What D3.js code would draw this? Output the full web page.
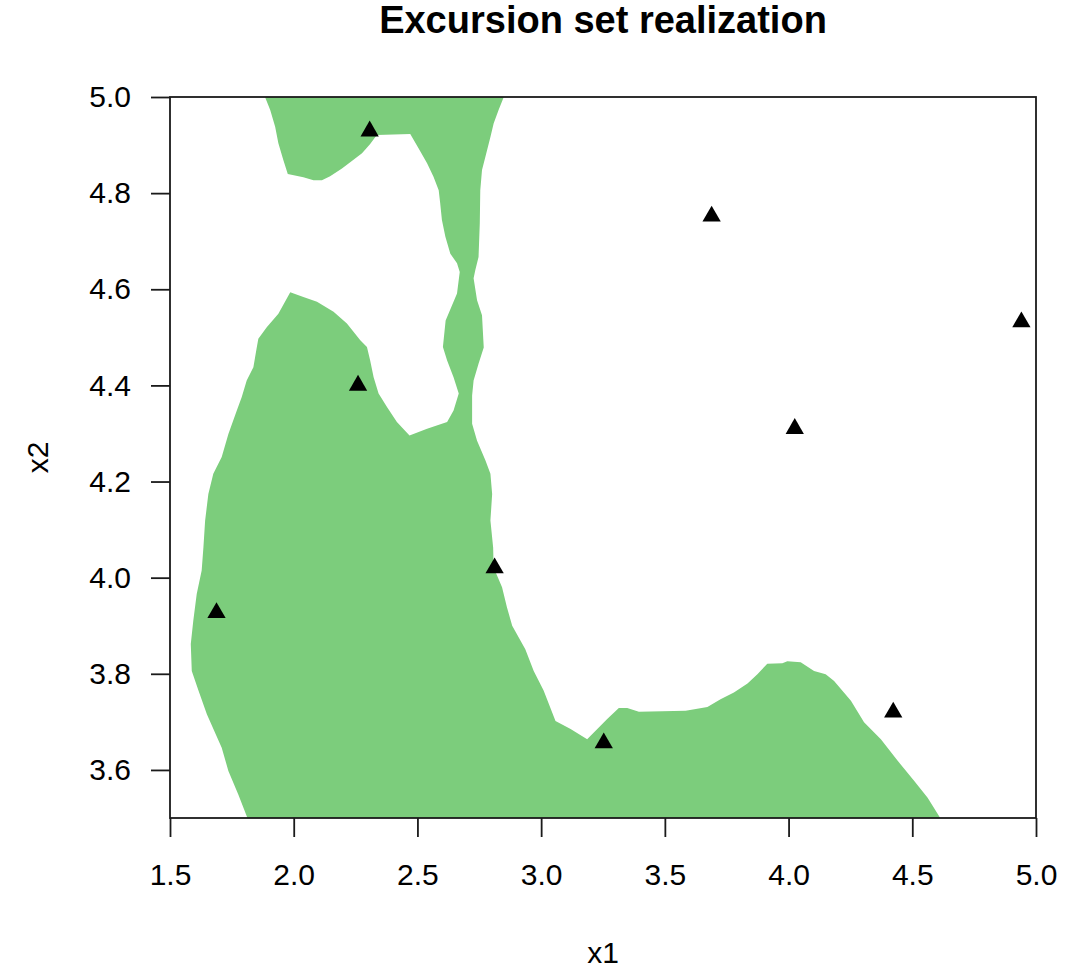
<!DOCTYPE html>
<html>
<head>
<meta charset="utf-8">
<script src="https://cdn.jsdelivr.net/npm/d3@7"></script>
<style>
  html, body { margin: 0; padding: 0; background: #ffffff; }
  svg { display: block; }
  text { font-family: "Liberation Sans", Arial, sans-serif; fill: #000; }
</style>
</head>
<body>
<svg id="chart" width="1087" height="970"></svg>
<script>
// Axis ticks
const xTicks = [1.5, 2.0, 2.5, 3.0, 3.5, 4.0, 4.5, 5.0];
const yTicks = [3.6, 3.8, 4.0, 4.2, 4.4, 4.6, 4.8, 5.0];

// Boundary of the excursion set (x1, x2), traced clockwise
const boundaryX1 = [
  1.884, 2.849, 2.828, 2.808, 2.795, 2.775, 2.761, 2.754, 2.752, 2.747,
  2.734, 2.727, 2.741, 2.761, 2.768, 2.747, 2.727, 2.721, 2.721, 2.741,
  2.775, 2.795, 2.802, 2.795, 2.806, 2.808, 2.842, 2.862, 2.883, 2.936,
  2.970, 3.010, 3.058, 3.119, 3.186, 3.267, 3.314, 3.348, 3.395, 3.584,
  3.672, 3.725, 3.779, 3.834, 3.874, 3.914, 3.975, 3.995, 4.049, 4.103,
  4.150, 4.184, 4.252, 4.305, 4.373, 4.441, 4.508, 4.562, 4.613, 1.813,
  1.776, 1.736, 1.709, 1.649, 1.615, 1.588, 1.584, 1.594, 1.608, 1.628,
  1.635, 1.642, 1.655, 1.675, 1.709, 1.736, 1.770, 1.790, 1.810, 1.837,
  1.851, 1.857, 1.891, 1.938, 1.986, 2.039, 2.094, 2.161, 2.215, 2.269,
  2.296, 2.309, 2.323, 2.343, 2.377, 2.417, 2.468, 2.539, 2.620, 2.646,
  2.667, 2.646, 2.620, 2.603, 2.614, 2.660, 2.671, 2.660, 2.633, 2.613,
  2.599, 2.592, 2.586, 2.565, 2.539, 2.505, 2.471, 2.336, 2.309, 2.276,
  2.235, 2.195, 2.147, 2.114, 2.080, 2.039, 1.976, 1.958, 1.938, 1.925,
  1.905
];
const boundaryX2 = [
  5.000, 5.000, 4.973, 4.945, 4.917, 4.876, 4.848, 4.806, 4.737, 4.667,
  4.640, 4.623, 4.577, 4.546, 4.479, 4.445, 4.410, 4.379, 4.320, 4.285,
  4.244, 4.216, 4.174, 4.119, 4.063, 4.021, 3.980, 3.938, 3.900, 3.851,
  3.806, 3.765, 3.702, 3.685, 3.664, 3.706, 3.729, 3.729, 3.721, 3.723,
  3.731, 3.747, 3.761, 3.780, 3.799, 3.821, 3.822, 3.826, 3.824, 3.806,
  3.799, 3.785, 3.744, 3.699, 3.664, 3.619, 3.577, 3.542, 3.500, 3.500,
  3.549, 3.598, 3.646, 3.716, 3.765, 3.806, 3.862, 3.910, 3.966, 4.015,
  4.063, 4.119, 4.174, 4.216, 4.251, 4.299, 4.348, 4.376, 4.410, 4.438,
  4.480, 4.497, 4.521, 4.549, 4.594, 4.584, 4.574, 4.553, 4.529, 4.494,
  4.480, 4.452, 4.417, 4.383, 4.355, 4.324, 4.296, 4.310, 4.324, 4.348,
  4.383, 4.417, 4.452, 4.480, 4.535, 4.591, 4.636, 4.654, 4.674, 4.709,
  4.744, 4.779, 4.806, 4.834, 4.862, 4.893, 4.923, 4.921, 4.902, 4.883,
  4.867, 4.851, 4.835, 4.827, 4.827, 4.833, 4.840, 4.869, 4.904, 4.938,
  4.973
];

// Design points
const pointX1 = [2.307, 3.689, 4.941, 4.025, 2.260, 2.812, 1.688, 3.253, 4.423];
const pointX2 = [4.929, 4.752, 4.532, 4.310, 4.400, 4.020, 3.927, 3.656, 3.720];

const W = 1087, H = 970;
const plot = { left: 170, right: 1036, top: 97, bottom: 818 };

const svg = d3.select("#chart");
const x = d3.scaleLinear().domain([1.5, 5.0]).range([plot.left, plot.right]);
const y = d3.scaleLinear().domain([3.5, 5.0]).range([plot.bottom, plot.top]);

svg.append("defs").append("clipPath").attr("id", "plotClip")
  .append("rect")
  .attr("x", plot.left).attr("y", plot.top)
  .attr("width", plot.right - plot.left).attr("height", plot.bottom - plot.top);

// Excursion set region
const region = boundaryX1.map((v, i) => [v, boundaryX2[i]]);
svg.append("path")
  .attr("clip-path", "url(#plotClip)")
  .attr("d", d3.line().x(d => x(d[0])).y(d => y(d[1]))(region) + "Z")
  .attr("fill", "#7CCD7C")
  .attr("stroke", "none");

// Design points as filled triangles
const tri = d3.symbol().type(d3.symbolTriangle).size(145);
svg.append("g").selectAll("path")
  .data(pointX1.map((v, i) => [v, pointX2[i]]))
  .join("path")
  .attr("d", tri)
  .attr("transform", d => `translate(${x(d[0])},${y(d[1])})`)
  .attr("fill", "#000");

// Axes
const xAxis = d3.axisBottom(x).tickValues(xTicks).tickFormat(d3.format(".1f"))
  .tickSize(19).tickPadding(27);
const yAxis = d3.axisLeft(y).tickValues(yTicks).tickFormat(d3.format(".1f"))
  .tickSize(19).tickPadding(20);

const gx = svg.append("g").attr("transform", `translate(0,${plot.bottom})`).call(xAxis);
const gy = svg.append("g").attr("transform", `translate(${plot.left},0)`).call(yAxis);
[gx, gy].forEach(g => {
  g.select(".domain").remove();
  g.selectAll(".tick line").attr("stroke", "#1a1a1a").attr("stroke-width", 1.8);
  g.selectAll(".tick text")
    .attr("fill", "#000")
    .style("font-family", '"Liberation Sans", Arial, sans-serif')
    .style("font-size", "30px");
});

// Plot box
svg.append("rect")
  .attr("x", plot.left).attr("y", plot.top)
  .attr("width", plot.right - plot.left).attr("height", plot.bottom - plot.top)
  .attr("fill", "none").attr("stroke", "#1a1a1a").attr("stroke-width", 1.8);

// Title and axis labels
svg.append("text")
  .attr("x", (plot.left + plot.right) / 2).attr("y", 33)
  .attr("text-anchor", "middle")
  .style("font-size", "38px").style("font-weight", "bold")
  .text("Excursion set realization");

svg.append("text")
  .attr("x", (plot.left + plot.right) / 2).attr("y", 963)
  .attr("text-anchor", "middle")
  .style("font-size", "30px")
  .text("x1");

svg.append("text")
  .attr("transform", `translate(48,${(plot.top + plot.bottom) / 2}) rotate(-90)`)
  .attr("text-anchor", "middle")
  .style("font-size", "30px")
  .text("x2");
</script>
</body>
</html>
